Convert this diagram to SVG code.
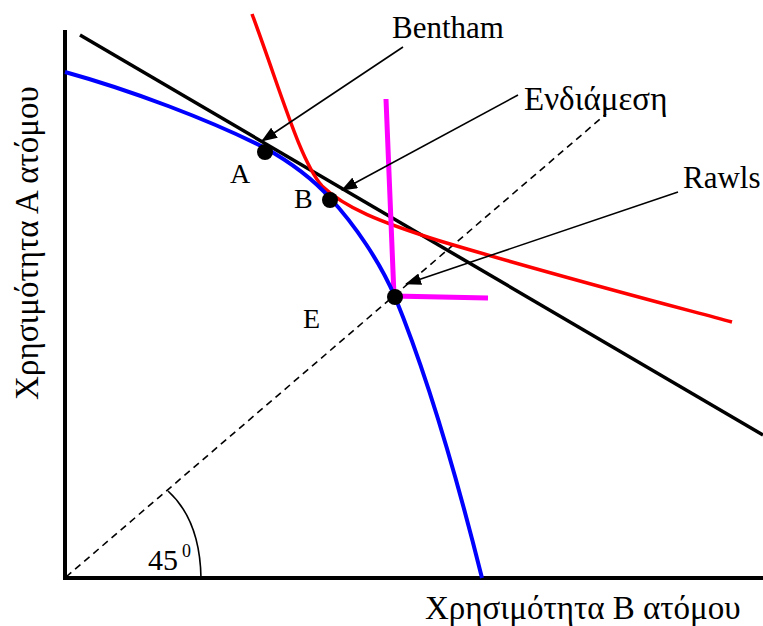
<svg xmlns="http://www.w3.org/2000/svg" width="763" height="626" viewBox="0 0 763 626">
<style>
text{font-family:"Liberation Serif","DejaVu Serif",serif;fill:#000}
.lbl{font-size:28px}
.big{font-size:31px}
.ax{font-size:33px}
.ptr{stroke:#000;stroke-width:1.6;fill:none}
.dot{fill:#000}
</style>
<defs>
<marker id="ah" viewBox="0 0 16 12" refX="15" refY="6" markerWidth="16" markerHeight="12" markerUnits="userSpaceOnUse" orient="auto">
<path d="M0,0 L16,6 L0,12 Z" fill="#000"/>
</marker>
</defs>
<rect width="763" height="626" fill="#fff"/>
<g id="axes" stroke="#000" stroke-width="4" fill="none">
<path d="M65,30 L65,578 L763,578"/>
</g>
<g id="diag45">
<path d="M66,577 L606,114" stroke="#000" stroke-width="1.6" stroke-dasharray="7,5" fill="none"/>
<path d="M168,491 Q200,520 201,578" stroke="#000" stroke-width="1.6" fill="none"/>
<text x="148" y="570" style="font-size:30px">45</text>
<text x="182" y="557" style="font-size:18px">0</text>
</g>
<g id="budget">
<path d="M80,35 L763,435" stroke="#000" stroke-width="3.5" fill="none"/>
</g>
<g id="red">
<path d="M252,14 C282,95 300,160 322,186 C345,208 380,222 440,241 C550,274 650,300 732,322" stroke="#f00" stroke-width="3.5" fill="none"/>
</g>
<g id="magenta">
<path d="M386,99 L394,296 L488,298" stroke="#f0f" stroke-width="5" fill="none"/>
</g>
<g id="frontier">
<path d="M65,72 C130,90 210,120 265,148 C290,162 312,178 330,198 C355,225 380,262 395,297 C425,370 455,470 482,578" stroke="#00f" stroke-width="4" fill="none"/>
</g>
<g id="pointA"><circle cx="265" cy="152" r="8" class="dot"/><text x="230" y="183" class="lbl">A</text></g>
<g id="pointB"><circle cx="330" cy="200" r="8" class="dot"/><text x="294" y="208" class="lbl">B</text></g>
<g id="pointE"><circle cx="395" cy="297" r="8" class="dot"/><text x="303" y="328" class="lbl">E</text></g>
<g id="connectors">
<path d="M403,47 L262,141" class="ptr" marker-end="url(#ah)"/>
<path d="M518,95 L342,190" class="ptr" marker-end="url(#ah)"/>
<path d="M678,192 L406,284" class="ptr" marker-end="url(#ah)"/>
</g>
<g id="bentham"><text x="392" y="38" class="big">Bentham</text></g>
<g id="endiamesi"><text x="524" y="110" style="font-size:33px">Ενδιάμεση</text></g>
<g id="rawls"><text x="683" y="188" class="big">Rawls</text></g>
<g id="xlabel"><text x="425" y="619" class="ax">Χρησιμότητα Β ατόμου</text></g>
<g id="ylabel"><text transform="translate(38,243) rotate(-90)" text-anchor="middle" class="ax">Χρησιμότητα Α ατόμου</text></g>
</svg>
